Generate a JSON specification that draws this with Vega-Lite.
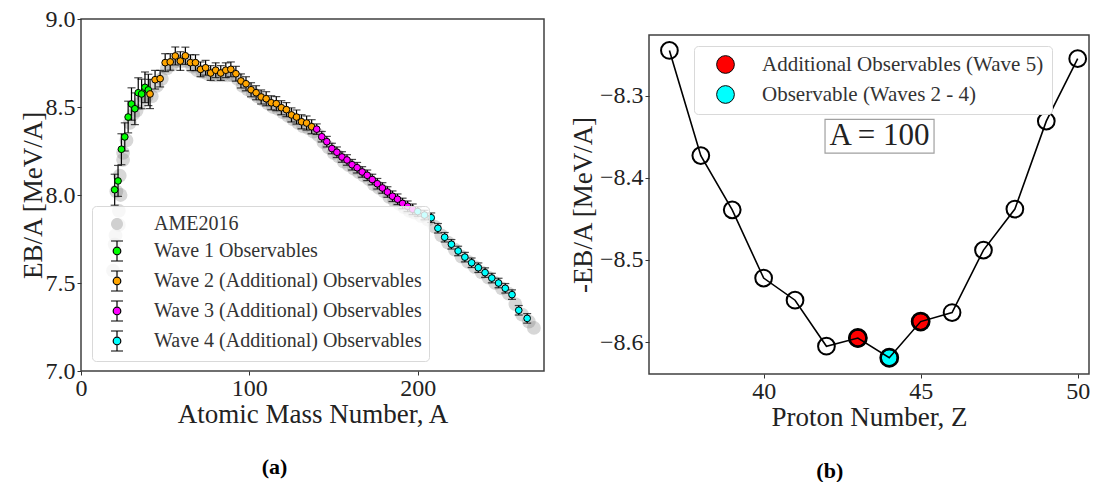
{
 "$schema": "https://vega.github.io/schema/vega-lite/v6.json",
 "background": "white",
 "padding": {"left": 18, "top": 6, "right": 0, "bottom": 0},
 "config": {
  "font": "Liberation Serif",
  "view": {"stroke": "#404040", "strokeWidth": 1.5},
  "axis": {"domain": false, "grid": false, "tickColor": "#333", "tickSize": 4, "tickWidth": 1, "labelFontSize": 24, "titleFontSize": 27, "labelColor": "#222", "titleColor": "#222", "titleFontWeight": "normal", "labelFont": "Liberation Serif", "titleFont": "Liberation Serif", "labelFlush": false, "labelOverlap": false, "labelPadding": 2, "titlePadding": 3},
  "axisX": {"labelPadding": 1, "titlePadding": 1}
 },
 "datasets": {
  "waves": [
   {"A":20,"v":8.030,"err":0.088,"series":"Wave 1 Observables"},
   {"A":22,"v":8.080,"err":0.088,"series":"Wave 1 Observables"},
   {"A":24,"v":8.260,"err":0.088,"series":"Wave 1 Observables"},
   {"A":26,"v":8.330,"err":0.08,"series":"Wave 1 Observables"},
   {"A":28,"v":8.443,"err":0.09,"series":"Wave 1 Observables"},
   {"A":30,"v":8.517,"err":0.092,"series":"Wave 1 Observables"},
   {"A":32,"v":8.490,"err":0.09,"series":"Wave 1 Observables"},
   {"A":34,"v":8.581,"err":0.085,"series":"Wave 1 Observables"},
   {"A":36,"v":8.574,"err":0.084,"series":"Wave 1 Observables"},
   {"A":38,"v":8.612,"err":0.087,"series":"Wave 1 Observables"},
   {"A":40,"v":8.597,"err":0.089,"series":"Wave 1 Observables"},
   {"A":41,"v":8.574,"err":0.083,"series":"Wave 2 (Additional) Observables"},
   {"A":44,"v":8.655,"err":0.053,"series":"Wave 2 (Additional) Observables"},
   {"A":47,"v":8.661,"err":0.047,"series":"Wave 2 (Additional) Observables"},
   {"A":50,"v":8.752,"err":0.051,"series":"Wave 2 (Additional) Observables"},
   {"A":53,"v":8.756,"err":0.047,"series":"Wave 2 (Additional) Observables"},
   {"A":56,"v":8.790,"err":0.051,"series":"Wave 2 (Additional) Observables"},
   {"A":59,"v":8.761,"err":0.053,"series":"Wave 2 (Additional) Observables"},
   {"A":62,"v":8.791,"err":0.049,"series":"Wave 2 (Additional) Observables"},
   {"A":65,"v":8.752,"err":0.045,"series":"Wave 2 (Additional) Observables"},
   {"A":68,"v":8.752,"err":0.045,"series":"Wave 2 (Additional) Observables"},
   {"A":71,"v":8.714,"err":0.042,"series":"Wave 2 (Additional) Observables"},
   {"A":74,"v":8.723,"err":0.042,"series":"Wave 2 (Additional) Observables"},
   {"A":77,"v":8.693,"err":0.042,"series":"Wave 2 (Additional) Observables"},
   {"A":80,"v":8.709,"err":0.042,"series":"Wave 2 (Additional) Observables"},
   {"A":83,"v":8.693,"err":0.042,"series":"Wave 2 (Additional) Observables"},
   {"A":86,"v":8.709,"err":0.042,"series":"Wave 2 (Additional) Observables"},
   {"A":89,"v":8.714,"err":0.042,"series":"Wave 2 (Additional) Observables"},
   {"A":92,"v":8.689,"err":0.042,"series":"Wave 2 (Additional) Observables"},
   {"A":95,"v":8.648,"err":0.04,"series":"Wave 2 (Additional) Observables"},
   {"A":98,"v":8.632,"err":0.04,"series":"Wave 2 (Additional) Observables"},
   {"A":101,"v":8.598,"err":0.04,"series":"Wave 2 (Additional) Observables"},
   {"A":104,"v":8.581,"err":0.04,"series":"Wave 2 (Additional) Observables"},
   {"A":107,"v":8.557,"err":0.04,"series":"Wave 2 (Additional) Observables"},
   {"A":110,"v":8.547,"err":0.04,"series":"Wave 2 (Additional) Observables"},
   {"A":113,"v":8.524,"err":0.04,"series":"Wave 2 (Additional) Observables"},
   {"A":116,"v":8.519,"err":0.04,"series":"Wave 2 (Additional) Observables"},
   {"A":119,"v":8.496,"err":0.04,"series":"Wave 2 (Additional) Observables"},
   {"A":122,"v":8.485,"err":0.04,"series":"Wave 2 (Additional) Observables"},
   {"A":125,"v":8.455,"err":0.04,"series":"Wave 2 (Additional) Observables"},
   {"A":128,"v":8.443,"err":0.04,"series":"Wave 2 (Additional) Observables"},
   {"A":131,"v":8.416,"err":0.04,"series":"Wave 2 (Additional) Observables"},
   {"A":134,"v":8.409,"err":0.04,"series":"Wave 2 (Additional) Observables"},
   {"A":137,"v":8.388,"err":0.04,"series":"Wave 2 (Additional) Observables"},
   {"A":140,"v":8.374,"err":0.03,"series":"Wave 3 (Additional) Observables"},
   {"A":143,"v":8.331,"err":0.03,"series":"Wave 3 (Additional) Observables"},
   {"A":146,"v":8.303,"err":0.03,"series":"Wave 3 (Additional) Observables"},
   {"A":149,"v":8.264,"err":0.03,"series":"Wave 3 (Additional) Observables"},
   {"A":152,"v":8.243,"err":0.03,"series":"Wave 3 (Additional) Observables"},
   {"A":155,"v":8.216,"err":0.03,"series":"Wave 3 (Additional) Observables"},
   {"A":158,"v":8.199,"err":0.03,"series":"Wave 3 (Additional) Observables"},
   {"A":161,"v":8.172,"err":0.03,"series":"Wave 3 (Additional) Observables"},
   {"A":164,"v":8.155,"err":0.03,"series":"Wave 3 (Additional) Observables"},
   {"A":167,"v":8.131,"err":0.03,"series":"Wave 3 (Additional) Observables"},
   {"A":170,"v":8.112,"err":0.03,"series":"Wave 3 (Additional) Observables"},
   {"A":173,"v":8.088,"err":0.03,"series":"Wave 3 (Additional) Observables"},
   {"A":176,"v":8.064,"err":0.03,"series":"Wave 3 (Additional) Observables"},
   {"A":179,"v":8.040,"err":0.03,"series":"Wave 3 (Additional) Observables"},
   {"A":182,"v":8.017,"err":0.03,"series":"Wave 3 (Additional) Observables"},
   {"A":185,"v":7.993,"err":0.03,"series":"Wave 3 (Additional) Observables"},
   {"A":188,"v":7.976,"err":0.03,"series":"Wave 3 (Additional) Observables"},
   {"A":191,"v":7.952,"err":0.03,"series":"Wave 3 (Additional) Observables"},
   {"A":194,"v":7.936,"err":0.03,"series":"Wave 3 (Additional) Observables"},
   {"A":197,"v":7.919,"err":0.03,"series":"Wave 3 (Additional) Observables"},
   {"A":200,"v":7.906,"err":0.027,"series":"Wave 4 (Additional) Observables"},
   {"A":204,"v":7.886,"err":0.027,"series":"Wave 4 (Additional) Observables"},
   {"A":208,"v":7.871,"err":0.027,"series":"Wave 4 (Additional) Observables"},
   {"A":212,"v":7.811,"err":0.027,"series":"Wave 4 (Additional) Observables"},
   {"A":216,"v":7.760,"err":0.027,"series":"Wave 4 (Additional) Observables"},
   {"A":220,"v":7.720,"err":0.027,"series":"Wave 4 (Additional) Observables"},
   {"A":224,"v":7.682,"err":0.027,"series":"Wave 4 (Additional) Observables"},
   {"A":228,"v":7.647,"err":0.027,"series":"Wave 4 (Additional) Observables"},
   {"A":232,"v":7.615,"err":0.027,"series":"Wave 4 (Additional) Observables"},
   {"A":236,"v":7.587,"err":0.027,"series":"Wave 4 (Additional) Observables"},
   {"A":240,"v":7.559,"err":0.027,"series":"Wave 4 (Additional) Observables"},
   {"A":244,"v":7.528,"err":0.027,"series":"Wave 4 (Additional) Observables"},
   {"A":248,"v":7.500,"err":0.027,"series":"Wave 4 (Additional) Observables"},
   {"A":252,"v":7.470,"err":0.027,"series":"Wave 4 (Additional) Observables"},
   {"A":256,"v":7.434,"err":0.027,"series":"Wave 4 (Additional) Observables"},
   {"A":260,"v":7.345,"err":0.027,"series":"Wave 4 (Additional) Observables"},
   {"A":265,"v":7.299,"err":0.027,"series":"Wave 4 (Additional) Observables"}
  ],
  "ame": [
   {"A":19,"v":7.57},{"A":20,"v":7.72},{"A":20.5,"v":7.77},{"A":22.5,"v":7.83},{"A":22.5,"v":7.91},{"A":23.5,"v":8.0},
   {"A":21,"v":8.02},{"A":23,"v":8.11},{"A":25,"v":8.2},{"A":25,"v":8.24},{"A":27,"v":8.31},{"A":29,"v":8.41},{"A":31,"v":8.46},
   {"A":33,"v":8.48},{"A":35,"v":8.52},{"A":37,"v":8.56},{"A":39,"v":8.56},{"A":42,"v":8.56},{"A":45,"v":8.62},{"A":48,"v":8.66},
   {"A":51,"v":8.72},{"A":54,"v":8.74},{"A":57,"v":8.76},{"A":60,"v":8.76},{"A":63,"v":8.76},{"A":66,"v":8.73},{"A":69,"v":8.71},
   {"A":72,"v":8.7},{"A":75,"v":8.69},{"A":78,"v":8.68},{"A":81,"v":8.68},{"A":84,"v":8.68},{"A":87,"v":8.68},{"A":90,"v":8.68},
   {"A":93,"v":8.66},{"A":96,"v":8.62},{"A":99,"v":8.6},{"A":102,"v":8.58},{"A":105,"v":8.56},{"A":108,"v":8.54},{"A":111,"v":8.52},
   {"A":114,"v":8.5},{"A":117,"v":8.49},{"A":120,"v":8.47},{"A":123,"v":8.45},{"A":126,"v":8.43},{"A":129,"v":8.41},{"A":132,"v":8.39},
   {"A":135,"v":8.38},{"A":138,"v":8.36},{"A":141,"v":8.34},{"A":144,"v":8.3},{"A":147,"v":8.27},{"A":150,"v":8.24},{"A":153,"v":8.22},
   {"A":156,"v":8.19},{"A":159,"v":8.17},{"A":162,"v":8.15},{"A":165,"v":8.13},{"A":168,"v":8.11},{"A":171,"v":8.09},{"A":174,"v":8.06},
   {"A":177,"v":8.04},{"A":180,"v":8.02},{"A":183,"v":7.99},{"A":186,"v":7.97},{"A":189,"v":7.95},{"A":192,"v":7.93},{"A":195,"v":7.91},
   {"A":198,"v":7.9},{"A":202,"v":7.88},{"A":206,"v":7.86},{"A":210,"v":7.82},{"A":214,"v":7.77},{"A":218,"v":7.73},{"A":222,"v":7.69},
   {"A":226,"v":7.65},{"A":230,"v":7.62},{"A":234,"v":7.59},{"A":238,"v":7.56},{"A":242,"v":7.53},{"A":246,"v":7.5},{"A":250,"v":7.47},
   {"A":254,"v":7.44},{"A":258,"v":7.38},{"A":262,"v":7.32},{"A":266,"v":7.28},{"A":269,"v":7.245}
  ],
  "zline": [
   {"Z":37,"v":-8.245},{"Z":38,"v":-8.373},{"Z":39,"v":-8.439},{"Z":40,"v":-8.522},{"Z":41,"v":-8.549},
   {"Z":42,"v":-8.605},{"Z":43,"v":-8.595},{"Z":44,"v":-8.619},{"Z":45,"v":-8.575},{"Z":46,"v":-8.564},
   {"Z":47,"v":-8.488},{"Z":48,"v":-8.438},{"Z":49,"v":-8.331},{"Z":50,"v":-8.255}
  ],
  "zhi": [
   {"Z":43,"v":-8.595,"cat":"Additional Observables (Wave 5)"},
   {"Z":45,"v":-8.575,"cat":"Additional Observables (Wave 5)"},
   {"Z":44,"v":-8.619,"cat":"Observable (Waves 2 - 4)"}
  ],
  "note": [{"label": "A = 100"}]
 },
 "resolve": {"scale": {"fill": "independent", "shape": "independent", "stroke": "independent"}},
 "spacing": 23,
 "hconcat": [
  {
   "width": 463, "height": 352,
   "title": {"text": "(a)", "orient": "bottom", "anchor": "middle", "frame": "group", "dx": -38, "offset": 30, "fontSize": 22, "fontWeight": "bold", "font": "Liberation Serif", "color": "black"},
   "encoding": {
    "x": {"field": "A", "type": "quantitative", "scale": {"domain": [0, 275], "nice": false, "zero": false}, "axis": {"title": "Atomic Mass Number, A", "values": [0, 100, 200], "format": "d"}},
    "y": {"field": "v", "type": "quantitative", "scale": {"domain": [7, 9], "nice": false, "zero": false}, "axis": {"title": "EB/A [MeV/A]", "values": [7, 7.5, 8, 8.5, 9], "format": ".1f", "titlePadding": -2}}
   },
   "layer": [
    {"data": {"name": "ame"}, "mark": {"type": "point", "filled": true, "size": 190, "color": "#707070", "opacity": 0.28, "strokeWidth": 0}},
    {"data": {"name": "waves"}, "mark": {"type": "errorbar", "ticks": {"size": 8}, "color": "black", "thickness": 1.2}, "encoding": {"yError": {"field": "err"}}},
    {"data": {"name": "waves"}, "mark": {"type": "point", "filled": true, "size": 45, "stroke": "black", "strokeWidth": 1, "opacity": 1},
     "encoding": {"fill": {"field": "series", "type": "nominal", "scale": {"domain": ["AME2016", "Wave 1 Observables", "Wave 2 (Additional) Observables", "Wave 3 (Additional) Observables", "Wave 4 (Additional) Observables"], "range": ["#d0d0d0", "#00ff00", "#ffa500", "#ff00ff", "#00ffff"]}}}},
    {"data": {"name": "waves"}, "transform": [{"filter": "false"}], "mark": {"type": "point", "filled": true, "opacity": 1},
     "encoding": {
      "fill": {"field": "series", "type": "nominal", "scale": {"domain": ["AME2016", "Wave 1 Observables", "Wave 2 (Additional) Observables", "Wave 3 (Additional) Observables", "Wave 4 (Additional) Observables"], "range": ["#d0d0d0", "#00ff00", "#ffa500", "#ff00ff", "#00ffff"]},
        "legend": {"orient": "none", "legendX": 11, "legendY": 187, "title": null, "padding": 7, "symbolSize": 400, "symbolOffset": 7, "labelOffset": 26, "rowPadding": 4, "labelFontSize": 20, "labelFont": "Liberation Serif", "labelColor": "#333", "fillColor": "rgba(255,255,255,0.8)", "strokeColor": "#d9d9d9", "cornerRadius": 4, "symbolStrokeWidth": 1.2, "labelLimit": 400}},
      "shape": {"field": "series", "type": "nominal", "scale": {"domain": ["AME2016", "Wave 1 Observables", "Wave 2 (Additional) Observables", "Wave 3 (Additional) Observables", "Wave 4 (Additional) Observables"], "range": ["M -0.6 0 A 0.6 0.6 0 1 1 0.6 0 A 0.6 0.6 0 1 1 -0.6 0 Z", "M -0.38 0 A 0.38 0.38 0 1 1 0.38 0 A 0.38 0.38 0 1 1 -0.38 0 Z M 0 -0.38 L 0 -1 M -0.6 -1 L 0.6 -1 M 0 0.38 L 0 1 M -0.6 1 L 0.6 1", "M -0.38 0 A 0.38 0.38 0 1 1 0.38 0 A 0.38 0.38 0 1 1 -0.38 0 Z M 0 -0.38 L 0 -1 M -0.6 -1 L 0.6 -1 M 0 0.38 L 0 1 M -0.6 1 L 0.6 1", "M -0.38 0 A 0.38 0.38 0 1 1 0.38 0 A 0.38 0.38 0 1 1 -0.38 0 Z M 0 -0.38 L 0 -1 M -0.6 -1 L 0.6 -1 M 0 0.38 L 0 1 M -0.6 1 L 0.6 1", "M -0.38 0 A 0.38 0.38 0 1 1 0.38 0 A 0.38 0.38 0 1 1 -0.38 0 Z M 0 -0.38 L 0 -1 M -0.6 -1 L 0.6 -1 M 0 0.38 L 0 1 M -0.6 1 L 0.6 1"]}},
      "stroke": {"field": "series", "type": "nominal", "scale": {"domain": ["AME2016", "Wave 1 Observables", "Wave 2 (Additional) Observables", "Wave 3 (Additional) Observables", "Wave 4 (Additional) Observables"], "range": ["transparent", "black", "black", "black", "black"]}}
     }}
   ]
  },
  {
   "title": {"text": "(b)", "orient": "bottom", "anchor": "middle", "frame": "bounds", "offset": 30, "fontSize": 22, "fontWeight": "bold", "font": "Liberation Serif", "color": "black"},
   "spacing": 14,
   "vconcat": [
    {"width": 440, "height": 1, "view": {"stroke": null}, "data": {"values": []}, "mark": "point"},
    {
     "width": 440, "height": 339,
     "layer": [
      {"data": {"name": "note"}, "mark": {"type": "rect", "fill": "white", "stroke": "#a0a0a0", "strokeWidth": 1.2}, "encoding": {"x": {"datum": 41.955, "type": "quantitative"}, "x2": {"datum": 45.426}, "y": {"datum": -8.329, "type": "quantitative"}, "y2": {"datum": -8.370}}},
      {"data": {"name": "note"}, "mark": {"type": "text", "fontSize": 31, "font": "Liberation Serif", "color": "#222", "baseline": "middle", "align": "center"}, "encoding": {"x": {"datum": 43.69, "type": "quantitative"}, "y": {"datum": -8.3497, "type": "quantitative"}, "text": {"field": "label", "type": "nominal"}}},
      {"data": {"name": "zhi"}, "mark": {"type": "point", "filled": true, "size": 300, "stroke": "black", "strokeWidth": 2.5, "opacity": 1},
       "encoding": {
        "x": {"field": "Z", "type": "quantitative", "scale": {"domain": [36.35, 50.36], "nice": false, "zero": false}, "axis": {"title": "Proton Number, Z", "values": [40, 45, 50], "format": "d"}},
        "y": {"field": "v", "type": "quantitative", "scale": {"domain": [-8.6388, -8.2262], "nice": false, "zero": false}, "axis": {"title": "-EB/A [MeV/A]", "values": [-8.6, -8.5, -8.4, -8.3], "format": ".1f", "titlePadding": 2}},
        "fill": {"field": "cat", "type": "nominal", "scale": {"domain": ["Additional Observables (Wave 5)", "Observable (Waves 2 - 4)"], "range": ["#ff0000", "#00ffff"]},
        "legend": {"orient": "none", "legendX": 45, "legendY": 27, "title": null, "padding": 8, "symbolSize": 314, "symbolType": "circle", "symbolStrokeColor": "black", "symbolStrokeWidth": 1, "symbolOffset": 13, "labelOffset": 26, "rowPadding": 7, "labelFontSize": 21, "labelFont": "Liberation Serif", "labelColor": "#333", "fillColor": "white", "strokeColor": "#d9d9d9", "cornerRadius": 4, "labelLimit": 400}}}},
      {"data": {"name": "zline"}, "mark": {"type": "point", "filled": false, "size": 280, "stroke": "black", "strokeWidth": 2, "opacity": 1},
       "encoding": {"x": {"field": "Z", "type": "quantitative"}, "y": {"field": "v", "type": "quantitative"}}},
      {"data": {"name": "zline"}, "mark": {"type": "line", "color": "black", "strokeWidth": 1.6},
       "encoding": {"x": {"field": "Z", "type": "quantitative"}, "y": {"field": "v", "type": "quantitative"}}}
     ]
    }
   ]
  }
 ]
}
